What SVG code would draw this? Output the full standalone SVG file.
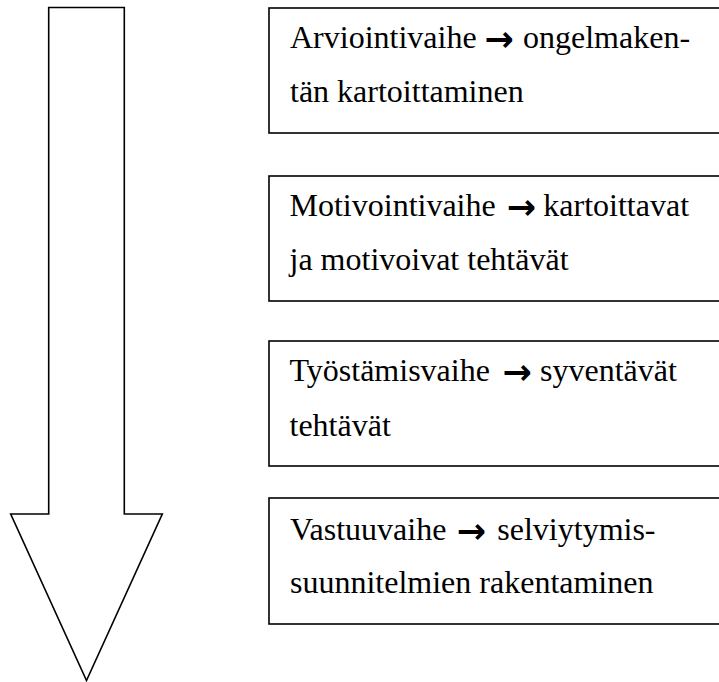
<svg xmlns="http://www.w3.org/2000/svg" width="719" height="682" viewBox="0 0 719 682">
<style>
.box{fill:#fff;stroke:#000;stroke-width:1.6}
.t{font-family:"Liberation Serif","Times New Roman",serif;font-size:32px;fill:#000}
.ar{font-family:"DejaVu Sans",sans-serif;font-weight:bold;font-size:35px;fill:#000}
.big{fill:#fff;stroke:#000;stroke-width:1.6;stroke-linejoin:miter}
</style>
<rect width="719" height="682" fill="#fff"/>
<g id="flow-arrow">
<polygon class="big" points="48.7,7.5 124.3,7.5 124.3,514 162.3,514 86.5,680.5 10.7,514 48.7,514"/>
</g>
<g id="connectors"></g>
<g id="n1">
<rect class="box" x="269" y="8" width="455" height="125"/>
<text class="t" x="290" y="48">Arviointivaihe</text>
<text class="ar" x="484.5" y="51">→</text>
<text class="t" x="523" y="48">ongelmaken-</text>
<text class="t" x="290" y="102">tän kartoittaminen</text>
</g>
<g id="n2">
<rect class="box" x="269" y="176" width="455" height="125"/>
<text class="t" x="289.5" y="216">Motivointivaihe</text>
<text class="ar" x="506.8" y="219">→</text>
<text class="t" x="543.3" y="216">kartoittavat</text>
<text class="t" x="289.5" y="270">ja motivoivat tehtävät</text>
</g>
<g id="n3">
<rect class="box" x="269" y="341" width="455" height="125"/>
<text class="t" x="289.5" y="381">Työstämisvaihe</text>
<text class="ar" x="502.5" y="384">→</text>
<text class="t" x="540" y="381">syventävät</text>
<text class="t" x="289.5" y="436">tehtävät</text>
</g>
<g id="n4">
<rect class="box" x="269" y="498" width="455" height="126"/>
<text class="t" x="290" y="540">Vastuuvaihe</text>
<text class="ar" x="456.8" y="543">→</text>
<text class="t" x="497.3" y="540">selviytymis-</text>
<text class="t" x="290" y="593">suunnitelmien rakentaminen</text>
</g>
</svg>
